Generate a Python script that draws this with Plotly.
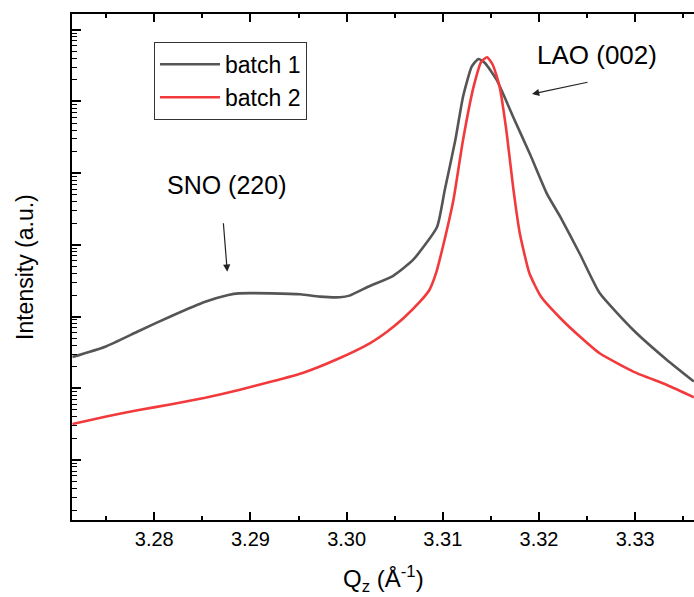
import plotly.graph_objects as go

# batch 1 (gray)
q1 = [3.2715, 3.2749, 3.2784, 3.2818, 3.2853, 3.2877, 3.2888, 3.2922, 3.2952, 3.2972,
      3.2993, 3.3003, 3.3024, 3.3048, 3.3069, 3.3094, 3.3102, 3.3113, 3.3121, 3.3130,
      3.3137, 3.3144, 3.3156, 3.3173, 3.3191, 3.3208, 3.3222, 3.3243, 3.3263, 3.3298,
      3.3333, 3.3361]
i1 = [27.3, 38.0, 63.0, 102, 161, 200, 211, 211, 205, 190,
      186, 196, 267, 368, 616, 1778, 5830, 29000, 116700, 305700,
      391500, 341000, 199500, 61400, 17900, 5240, 2470, 723, 213, 65,
      24.8, 12.4]

# batch 2 (red)
q2 = [3.2715, 3.2749, 3.2784, 3.2818, 3.2853, 3.2888, 3.2922, 3.2955, 3.2990, 3.3024,
      3.3042, 3.3059, 3.3076, 3.3086, 3.3093, 3.3100, 3.3111, 3.3121, 3.3132, 3.3140,
      3.3146, 3.3152, 3.3159, 3.3166, 3.3173, 3.3180, 3.3190, 3.3202, 3.3222, 3.3243,
      3.3263, 3.3298, 3.3333, 3.3361]
i2 = [3.18, 4.02, 4.98, 5.98, 7.39, 9.47, 12.4, 16.5, 25.4, 42.4,
      61.6, 95, 160, 235, 406, 935, 4230, 29000, 160800, 359000,
      413000, 323000, 160800, 40000, 6490, 1452, 402, 190, 95.6, 51.9,
      30.8, 17.1, 11.1, 7.49]

names = ["batch 1", "batch 2"]
colors = ["#555555", "#f23a3c"]

x_range = [3.27145, 3.33611]
y_range = [-0.837, 6.22]
x_ticks = [3.28, 3.29, 3.30, 3.31, 3.32, 3.33]
x_ticklabels = ["3.28", "3.29", "3.30", "3.31", "3.32", "3.33"]

FONT = "Liberation Sans, Arial, sans-serif"

fig = go.Figure()
for q, inten, nm, c, g in [(q1, i1, names[0], colors[0], "g1"), (q2, i2, names[1], colors[1], "g2")]:
    fig.add_trace(go.Scatter(x=q, y=inten, mode="lines", name=nm, legendgroup=g,
                             line=dict(color=c, width=2.6, shape="spline", smoothing=0.5)))

fig.update_layout(
    width=694, height=597, autosize=False,
    margin=dict(l=72, r=0, t=14, b=77),
    plot_bgcolor="white", paper_bgcolor="white",
    font=dict(family=FONT, size=20, color="black"),
    showlegend=True,
    legend=dict(x=0.1318, y=0.945, xanchor="left", yanchor="top",
                bordercolor="#333333", borderwidth=1, bgcolor="white",
                font=dict(family=FONT, size=23, color="black"),
                tracegroupgap=0, itemwidth=60),
)
fig.update_xaxes(range=x_range, tickvals=x_ticks, ticktext=x_ticklabels,
                 ticks="inside", ticklen=8, tickwidth=1.5, tickcolor="black",
                 showline=True, linecolor="black", linewidth=1.5, mirror="allticks",
                 showgrid=False, zeroline=False,
                 tickfont=dict(family=FONT, size=20, color="black"),
                 minor=dict(dtick=0.005, tick0=3.275, ticks="inside", ticklen=4,
                            tickwidth=1.5, tickcolor="black", showgrid=False))
fig.update_yaxes(type="log", range=y_range, dtick=1, showticklabels=False,
                 ticks="inside", ticklen=9, tickwidth=1.5, tickcolor="black",
                 showline=True, linecolor="black", linewidth=1.5, mirror=False,
                 showgrid=False, zeroline=False,
                 minor=dict(dtick="D1", ticks="inside", ticklen=5, tickwidth=1.2,
                            tickcolor="black", showgrid=False))

# axis titles
fig.add_annotation(text="Q<sub>z</sub> (Å<sup>-1</sup>)", xref="paper", yref="paper",
                   x=0.5, y=-0.117, xanchor="center", yanchor="middle", showarrow=False,
                   font=dict(family=FONT, size=24, color="black"))
fig.add_annotation(text="Intensity (a.u.)", xref="paper", yref="paper",
                   x=-0.0756, y=0.5, xanchor="center", yanchor="middle", showarrow=False,
                   textangle=-90, font=dict(family=FONT, size=23, color="black"))

# peak labels
fig.add_annotation(text="LAO (002)", x=3.32603, y=5.649, xref="x", yref="y",
                   showarrow=False, font=dict(family=FONT, size=26, color="black"))
fig.add_annotation(text="", x=3.31927, y=5.105, xref="x", yref="y",
                   ax=57, ay=-12, showarrow=True, arrowhead=2, arrowsize=1.2,
                   arrowwidth=1.2, arrowcolor="#222222")
fig.add_annotation(text="SNO (220)", x=3.28746, y=3.835, xref="x", yref="y",
                   showarrow=False, font=dict(family=FONT, size=25, color="black"))
fig.add_annotation(text="", x=3.28759, y=2.626, xref="x", yref="y",
                   ax=-4, ay=-50, showarrow=True, arrowhead=2, arrowsize=1.2,
                   arrowwidth=1.2, arrowcolor="#222222")

fig.write_html("out.html")
